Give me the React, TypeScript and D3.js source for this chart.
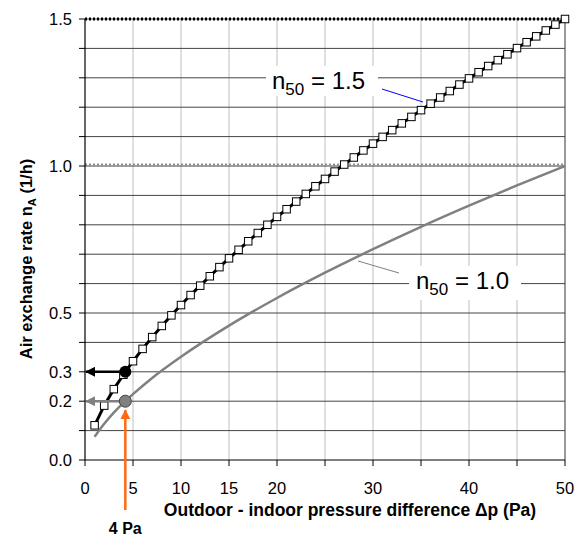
import React from 'react';
import * as d3 from 'd3';

// n50 = 1.5 curve, one point per Pa
const pressure15 = d3.range(1, 51);
const rate15 = [
  0.118, 0.185, 0.241, 0.290, 0.336, 0.378, 0.418, 0.456, 0.492, 0.527,
  0.561, 0.593, 0.625, 0.656, 0.686, 0.715, 0.744, 0.772, 0.800, 0.827,
  0.853, 0.879, 0.905, 0.931, 0.956, 0.981, 1.005, 1.029, 1.053, 1.076,
  1.099, 1.122, 1.145, 1.167, 1.190, 1.212, 1.233, 1.255, 1.277, 1.298,
  1.319, 1.340, 1.360, 1.380, 1.401, 1.421, 1.441, 1.461, 1.481, 1.5,
];

// n50 = 1.0 curve
const pressure10 = [1, 2, 3, 4, 5, 7, 10, 15, 20, 25, 30, 35, 40, 45, 50];
const rate10 = [0.079, 0.123, 0.161, 0.194, 0.224, 0.279, 0.351, 0.457, 0.551, 0.637, 0.717, 0.793, 0.865, 0.934, 1.0];

const yTicks = d3.range(0, 16).map(i => i / 10);
const yLabels = [0, 0.2, 0.3, 0.5, 1.0, 1.5];
const xTicks = d3.range(0, 55, 5);
const xLabels = [0, 5, 10, 15, 20, 30, 40, 50];

// reading point at 4 Pa
const readP = 4.2;
const readHigh = 0.3;
const readLow = 0.2;

const W = 583;
const H = 536;
const font = 'Arial, "Liberation Sans", sans-serif';

export default function App() {
  const x = d3.scaleLinear().domain([0, 50]).range([85, 565]);
  const y = d3.scaleLinear().domain([0, 1.5]).range([460, 19]);

  const line15 = d3.line<number>()
    .x((_, i) => x(pressure15[i]))
    .y(d => y(d));
  const line10 = d3.line<number>()
    .x((_, i) => x(pressure10[i]))
    .y(d => y(d))
    .curve(d3.curveMonotoneX);

  const left = x(0);
  const right = x(50);
  const top = y(1.5);
  const bottom = y(0);

  return (
    <div style={{ position: 'absolute', left: 0, top: 0 }}>
      <svg width={W} height={H} style={{ display: 'block', background: '#fff' }} fontFamily={font}>
        <defs>
          <marker id="arrBlack" viewBox="0 0 10 10" refX="9" refY="5" markerWidth="4" markerHeight="4" orient="auto">
            <path d="M0,0 L10,5 L0,10 z" fill="#000" />
          </marker>
          <marker id="arrGray" viewBox="0 0 10 10" refX="9" refY="5" markerWidth="4" markerHeight="4" orient="auto">
            <path d="M0,0 L10,5 L0,10 z" fill="#808080" />
          </marker>
          <marker id="arrOrange" viewBox="0 0 10 10" refX="9" refY="5" markerWidth="4" markerHeight="4" orient="auto">
            <path d="M0,0 L10,5 L0,10 z" fill="#ff6a13" />
          </marker>
        </defs>

        {/* vertical grid */}
        {xTicks.filter(t => t > 0).map(t => (
          <line key={'vx' + t} x1={x(t)} x2={x(t)} y1={top} y2={bottom}
            stroke={t === 50 ? '#999' : '#c0c0c0'} strokeWidth={t === 50 ? 2 : 1} />
        ))}
        {/* horizontal grid */}
        {yTicks.filter(t => t > 0).map(t => (
          <line key={'hy' + t} x1={left} x2={right} y1={y(t)} y2={y(t)} stroke="#444" strokeWidth={1} />
        ))}
        {/* reference levels */}
        <line x1={left} x2={right} y1={y(1.5)} y2={y(1.5)} stroke="#000" strokeWidth={3} strokeDasharray="2,2" />
        <line x1={left} x2={right} y1={y(1.0) - 1} y2={y(1.0) - 1} stroke="#909090" strokeWidth={3} strokeDasharray="2,2" />

        {/* axes */}
        <line x1={left} x2={left} y1={top} y2={bottom} stroke="#000" strokeWidth={1.2} />
        <line x1={left} x2={right} y1={bottom} y2={bottom} stroke="#000" strokeWidth={1.2} />
        {yTicks.map(t => (
          <line key={'ty' + t} x1={left - 6} x2={left} y1={y(t)} y2={y(t)} stroke="#000" />
        ))}
        {xTicks.map(t => (
          <line key={'tx' + t} x1={x(t)} x2={x(t)} y1={bottom} y2={bottom + 6} stroke="#000" />
        ))}
        {yLabels.map(t => (
          <text key={'ly' + t} x={left - 13} y={y(t)} dy="0.35em" textAnchor="end" fontSize={16.5} fill="#000">
            {d3.format('.1f')(t)}
          </text>
        ))}
        {xLabels.map(t => (
          <text key={'lx' + t} x={x(t)} y={494} textAnchor="middle" fontSize={16.5} fill="#000">{t}</text>
        ))}

        {/* axis titles */}
        <text x={350} y={516} textAnchor="middle" fontSize={17.5} fontWeight="bold">
          Outdoor - indoor pressure difference Δp (Pa)
        </text>
        <text transform="translate(32,259) rotate(-90)" textAnchor="middle" fontSize={16.5} fontWeight="bold">
          Air exchange rate n<tspan fontSize={11} dy={4}>A</tspan><tspan dy={-4}> (1/h)</tspan>
        </text>

        {/* n50 = 1.0 curve */}
        <path d={line10(rate10) ?? ''} fill="none" stroke="#808080" strokeWidth={2.5} />

        {/* n50 = 1.5 curve */}
        <path d={line15(rate15) ?? ''} fill="none" stroke="#000" strokeWidth={3} />
        {rate15.map((v, i) => (
          <rect key={'s' + i} x={x(pressure15[i]) - 3.75} y={y(v) - 3.75} width={7.5} height={7.5}
            fill="#fff" stroke="#000" strokeWidth={1} />
        ))}

        {/* reading at 4 Pa */}
        <line x1={x(readP) - 6} x2={x(0) + 1} y1={y(readHigh)} y2={y(readHigh)}
          stroke="#000" strokeWidth={2.5} markerEnd="url(#arrBlack)" />
        <line x1={x(readP) - 6} x2={x(0) + 1} y1={y(readLow)} y2={y(readLow)}
          stroke="#808080" strokeWidth={2.5} markerEnd="url(#arrGray)" />
        <circle cx={x(readP)} cy={y(readHigh)} r={6} fill="#000" />
        <circle cx={x(readP)} cy={y(readLow)} r={6} fill="#808080" stroke="#444" strokeWidth={1} />
        <line x1={x(readP)} x2={x(readP)} y1={510} y2={y(readLow) + 9}
          stroke="#ff6a13" strokeWidth={2.5} markerEnd="url(#arrOrange)" />
        <text x={x(readP)} y={534} textAnchor="middle" fontSize={16} fontWeight="bold">4 Pa</text>

        {/* labels */}
        <line x1={382} y1={89} x2={423} y2={102} stroke="#0000ff" strokeWidth={1} />
        <rect x={266} y={66} width={112} height={30} fill="#fff" />
        <text x={272} y={89} fontSize={24} fill="#000">
          n<tspan fontSize={17} dy={6}>50</tspan><tspan dy={-6}> = 1.5</tspan>
        </text>

        <line x1={358} y1={261} x2={399} y2={273} stroke="#808080" strokeWidth={1} />
        <rect x={409} y={266} width={112} height={34} fill="#fff" />
        <text x={416} y={289} fontSize={24} fill="#000">
          n<tspan fontSize={17} dy={6}>50</tspan><tspan dy={-6}> = 1.0</tspan>
        </text>
      </svg>
    </div>
  );
}
